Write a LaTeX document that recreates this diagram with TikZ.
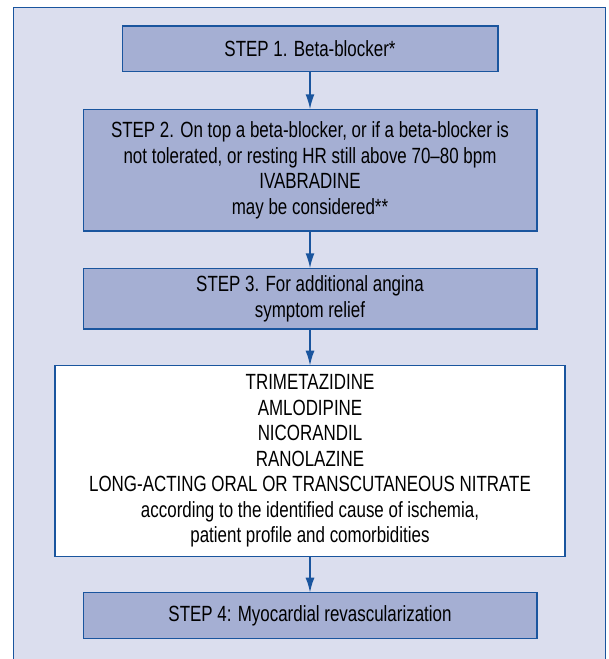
\documentclass[tikz,border=0pt]{standalone}
\usepackage{fontspec}
\setmainfont{Liberation Sans}[FakeStretch=0.77]
\usepackage{xcolor}
\usepackage{tikz}
\usetikzlibrary{positioning,arrows.meta}
\definecolor{edge}{HTML}{1A559E}
\definecolor{panel}{HTML}{DBDEEE}
\definecolor{stepfill}{HTML}{A5AFD3}
\tikzset{
  frame/.style={draw=edge, line width=1.3pt},
  stepbox/.style={draw=edge, line width=1.3pt, fill=stepfill, align=center,
    inner sep=0pt, outer sep=0pt, font=\fontsize{22}{25.5}\selectfont},
  drugbox/.style={stepbox, fill=white},
  link/.style={draw=edge, line width=1.7pt, -{Latex[length=15pt,width=9pt]}},
}

\begin{document}
\begin{tikzpicture}[x=1pt,y=1pt]
  \useasboundingbox (0,0) rectangle (609,-659);
  % panel behind the steps, open at the bottom
  \fill[panel] (13.3,-7.3) rectangle (605.7,-659);
  \draw[frame] (13.3,-659) -- (13.3,-7.3) -- (605.7,-7.3) -- (605.7,-659);
  \node[stepbox, minimum width=375.7, minimum height=45.7] (step1) at (310,-48.85)
    {STEP 1. Beta-blocker*};
  \node[stepbox, minimum width=453.7, minimum height=121.7, below=37.6 of step1] (step2)
    {STEP 2. On top a beta-blocker, or if a beta-blocker is\\
     not tolerated, or resting HR still above 70–80 bpm\\
     IVABRADINE\\
     may be considered**};
  \node[stepbox, minimum width=453.7, minimum height=60.7, below=37.3 of step2] (step3)
    {STEP 3. For additional angina\\ symptom relief};
  \node[drugbox, minimum width=510.1, minimum height=190.6, below=36.7 of step3] (drugs)
    {TRIMETAZIDINE\\
     AMLODIPINE\\
     NICORANDIL\\
     RANOLAZINE\\
     LONG-ACTING ORAL OR TRANSCUTANEOUS NITRATE\\
     according to the identified cause of ischemia,\\
     patient profile and comorbidities};
  \node[stepbox, minimum width=453.7, minimum height=45.6, below=36.4 of drugs] (step4)
    {STEP 4: Myocardial revascularization};
  \draw[link] (step1) -- (step2);
  \draw[link] (step2) -- (step3);
  \draw[link] (step3) -- (drugs);
  \draw[link] (drugs) -- (step4);
\end{tikzpicture}
\end{document}
